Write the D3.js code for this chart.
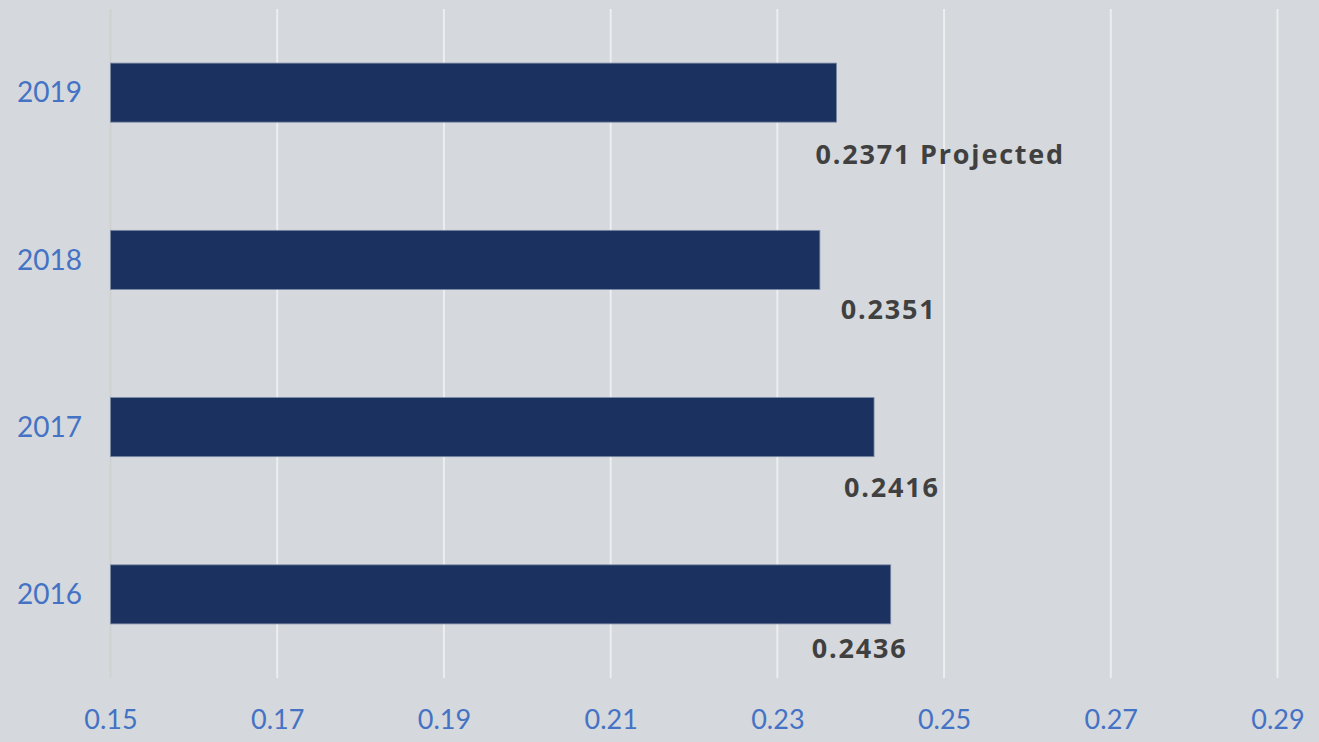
<!DOCTYPE html>
<html>
<head>
<meta charset="utf-8">
<script src="https://cdn.jsdelivr.net/npm/d3@7"></script>
<style>
	html, body { margin: 0; padding: 0; background: #d5d8dc; }
	svg { display: block; font-family: "Lato", "Open Sans", sans-serif; }
</style>
</head>
<body>
<svg id="mainSVG" width="1319" height="742"></svg>
<script>
// chart data
var years = ['2019', '2018', '2017', '2016'];
var values = [0.2371, 0.2351, 0.2416, 0.2436];
var labels = ['0.2371 Projected', '0.2351', '0.2416', '0.2436'];
var ticks = [0.15, 0.17, 0.19, 0.21, 0.23, 0.25, 0.27, 0.29];

// labels were nudged by hand in the original, so keep their offsets apart
var labelDx = [-21, 21, -30, -79];
var labelDy = [42, 30, 40, 34];

var f = { width: 1319, height: 742, top: 9, bottom: 678, left: 110.5, right: 1277.5 };

var svg = d3.select('#mainSVG');

svg.append('rect')
	.attr('width', f.width)
	.attr('height', f.height)
	.attr('fill', '#d5d8dc');

var x = d3.scaleLinear()
	.domain([0.15, 0.29])
	.range([f.left, f.right]);

var y = d3.scaleBand()
	.domain(years)
	.range([f.top, f.bottom])
	.paddingInner(0.647)
	.paddingOuter(0.3235);

// vertical grid
svg.append('g')
	.selectAll('line')
	.data(ticks)
	.enter().append('line')
	.attr('x1', function(d) { return x(d); })
	.attr('x2', function(d) { return x(d); })
	.attr('y1', f.top)
	.attr('y2', f.bottom)
	.attr('stroke', function(d, i) { return i === 0 ? '#d0d2d2' : '#eceef0'; })
	.attr('stroke-width', 2);

// bars
svg.append('g')
	.selectAll('rect')
	.data(values)
	.enter().append('rect')
	.attr('x', x(0.15))
	.attr('y', function(d, i) { return y(years[i]); })
	.attr('width', function(d) { return x(d) - x(0.15); })
	.attr('height', y.bandwidth())
	.attr('fill', '#1b3260')
	.attr('stroke', '#7c8aa6')
	.attr('stroke-width', 0.8);

// value labels
svg.append('g')
	.selectAll('text')
	.data(values)
	.enter().append('text')
	.attr('x', function(d, i) { return x(d) + labelDx[i]; })
	.attr('y', function(d, i) { return y(years[i]) + y.bandwidth() + labelDy[i]; })
	.attr('fill', '#404040')
	.attr('font-family', '"Open Sans", "Lato", sans-serif')
	.attr('font-size', 27)
	.attr('font-weight', 'bold')
	.attr('letter-spacing', 1.8)
	.text(function(d, i) { return labels[i]; });

// y axis labels
var yAxis = d3.axisLeft(y).tickSize(0).tickPadding(0);
var gy = svg.append('g')
	.attr('transform', 'translate(82,0)')
	.call(yAxis);
gy.select('.domain').remove();
gy.selectAll('text')
	.attr('fill', '#4472c4')
	.attr('font-size', 28)
	.attr('font-family', '"Lato", "Open Sans", sans-serif')
	.attr('dy', '0.35em');

// x axis labels
var xAxis = d3.axisBottom(x)
	.tickValues(ticks)
	.tickSize(0)
	.tickPadding(0)
	.tickFormat(d3.format('.2f'));
var gx = svg.append('g')
	.attr('transform', 'translate(0,729)')
	.call(xAxis);
gx.select('.domain').remove();
gx.selectAll('text')
	.attr('fill', '#4472c4')
	.attr('font-size', 27)
	.attr('font-family', '"Lato", "Open Sans", sans-serif')
	.attr('dy', 0);
</script>
</body>
</html>
